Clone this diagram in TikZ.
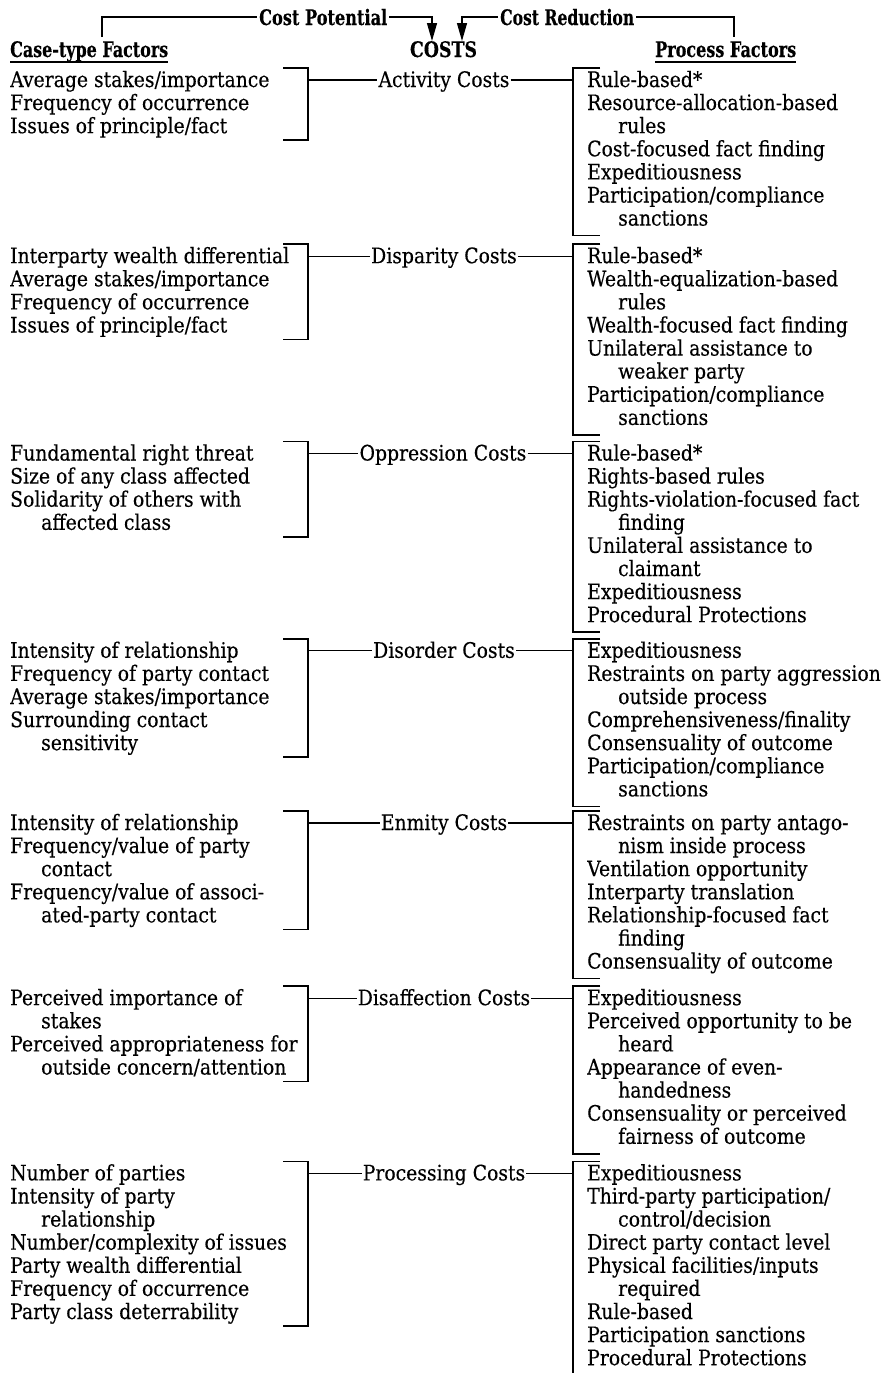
\documentclass[tikz,border=0pt]{standalone}
\usepackage{fontspec}
\setmainfont{DejaVu Serif}[FakeStretch=0.88,FakeBold=0.3]
\usepackage{graphicx}
\usetikzlibrary{arrows.meta}
\newlength\reflen
\newcommand\ind{\hspace*{31pt}}
\newcommand\tgroup[4]{\foreach \t [count=\i from 0] in {#4}{\node[txt] (#1-\i) at (#2,{#3+\i*23.1}) {\t};}}
\newcommand\lbracket[2]{\draw[brk] (283,{#1-19}) -- (308,{#1-19}) -- (308,{#1+(#2-1)*23.1+7}) -- (283,{#1+(#2-1)*23.1+7});}
\newcommand\rbracket[2]{\draw[brk] (600,{#1-19}) -- (573,{#1-19}) -- (573,{#1+(#2-1)*23.1+10}) -- (600,{#1+(#2-1)*23.1+10});}
\begin{document}
\settowidth\reflen{\fontsize{10pt}{12pt}\selectfont Interparty wealth differential}%
\pgfmathsetmacro\fs{10*279/\reflen}%
\begin{tikzpicture}[x=1pt,y=-1pt]
\tikzset{
  txt/.style={anchor=base west, inner sep=0pt, font=\fontsize{\fs pt}{\fs pt}\selectfont},
  cost/.style={anchor=base, inner xsep=1pt, inner ysep=0pt, text height=14pt, text depth=0pt, font=\fontsize{\fs pt}{\fs pt}\selectfont},
  hdr/.style={inner xsep=0pt, inner ysep=0pt, font=\fontsize{\fs pt}{\fs pt}\selectfont\bfseries},
  top/.style={anchor=base west, inner xsep=2pt, inner ysep=0pt, text height=16pt, text depth=0pt, font=\fontsize{\fs pt}{\fs pt}\selectfont\bfseries},
  brk/.style={line width=1.6pt},
  ln/.style={line width=1.3pt},
  tip/.style={-{Triangle[width=10pt,length=18pt]}}
}
\fill[white] (0,0) rectangle (882,1373);
\useasboundingbox (0,0) rectangle (882,1373);

% headers
\node[hdr, anchor=base west] (ctf) at (10,57) {\resizebox{158pt}{\height}{Case-type Factors}};
\node[hdr, anchor=base] (costs) at (443.5,57) {\resizebox{67pt}{\height}{COSTS}};
\node[hdr, anchor=base west] (pf) at (655,57) {\resizebox{141pt}{\height}{Process Factors}};
\draw[line width=2pt] ([yshift=-5pt]ctf.base west) -- ([yshift=-5pt]ctf.base east);
\draw[line width=2pt] ([yshift=-5pt]pf.base west) -- ([yshift=-5pt]pf.base east);
\node[top] (cp) at (257,25) {\resizebox{128pt}{\height}{Cost Potential}};
\node[top] (cr) at (498,25) {\resizebox{134pt}{\height}{Cost Reduction}};
\coordinate (cpL) at (102,37);
\coordinate (cpT) at (432,41);
\coordinate (crT) at (462,41);
\coordinate (crR) at (734,37);
\draw[ln] (cpL) |- (cp);
\draw[ln,tip] (cp) -| (cpT);
\draw[ln,tip] (cr) -| (crT);
\draw[ln] (cr) -| (crR);

% ---------- Activity
\tgroup{actl}{10}{87}{Average stakes/importance,Frequency of occurrence,Issues of principle/fact}
\tgroup{actr}{587}{87}{Rule-based*,Resource-allocation-based,\ind rules,Cost-focused fact finding,Expeditiousness,Participation/compliance,\ind sanctions}
\node[cost] (actc) at (444,87) {Activity Costs};
\coordinate (actL) at (308,80); \coordinate (actR) at (573,80);
\draw[ln] (actL) -- (actc); \draw[ln] (actc) -- (actR);
\lbracket{87}{3}
\rbracket{87}{7}

% ---------- Disparity
\tgroup{disl}{10}{263.2}{Interparty wealth differential,Average stakes/importance,Frequency of occurrence,Issues of principle/fact}
\tgroup{disr}{587}{263.2}{Rule-based*,Wealth-equalization-based,\ind rules,Wealth-focused fact finding,Unilateral assistance to,\ind weaker party,Participation/compliance,\ind sanctions}
\node[cost] (disc) at (444,263.2) {Disparity Costs};
\coordinate (disL) at (308,256.2); \coordinate (disR) at (573,256.2);
\draw[ln] (disL) -- (disc); \draw[ln] (disc) -- (disR);
\lbracket{263.2}{4}
\rbracket{263.2}{8}

% ---------- Oppression
\tgroup{oppl}{10}{460.5}{Fundamental right threat,Size of any class affected,Solidarity of others with,\ind affected class}
\tgroup{oppr}{587}{460.5}{Rule-based*,Rights-based rules,Rights-violation-focused fact,\ind finding,Unilateral assistance to,\ind claimant,Expeditiousness,Procedural Protections}
\node[cost] (oppc) at (443,460.5) {Oppression Costs};
\coordinate (oppL) at (308,453.5); \coordinate (oppR) at (573,453.5);
\draw[ln] (oppL) -- (oppc); \draw[ln] (oppc) -- (oppR);
\lbracket{460.5}{4}
\rbracket{460.5}{8}

% ---------- Disorder
\tgroup{dsol}{10}{657.8}{Intensity of relationship,Frequency of party contact,Average stakes/importance,Surrounding contact,\ind sensitivity}
\tgroup{dsor}{587}{657.8}{Expeditiousness,Restraints on party aggression,\ind outside process,Comprehensiveness/finality,Consensuality of outcome,Participation/compliance,\ind sanctions}
\node[cost] (dsoc) at (444,657.8) {Disorder Costs};
\coordinate (dsoL) at (308,650.8); \coordinate (dsoR) at (573,650.8);
\draw[ln] (dsoL) -- (dsoc); \draw[ln] (dsoc) -- (dsoR);
\lbracket{657.8}{5}
\rbracket{657.8}{7}

% ---------- Enmity
\tgroup{enml}{10}{830}{Intensity of relationship,Frequency/value of party,\ind contact,Frequency/value of associ-,\ind ated-party contact}
\tgroup{enmr}{587}{830}{Restraints on party antago-,\ind nism inside process,Ventilation opportunity,Interparty translation,Relationship-focused fact,\ind finding,Consensuality of outcome}
\node[cost] (enmc) at (444,830) {Enmity Costs};
\coordinate (enmL) at (308,823); \coordinate (enmR) at (573,823);
\draw[ln] (enmL) -- (enmc); \draw[ln] (enmc) -- (enmR);
\lbracket{830}{5}
\rbracket{830}{7}

% ---------- Disaffection
\tgroup{dafl}{10}{1005.2}{Perceived importance of,\ind stakes,Perceived appropriateness for,\ind outside concern/attention}
\tgroup{dafr}{587}{1005.2}{Expeditiousness,Perceived opportunity to be,\ind heard,Appearance of even-,\ind handedness,Consensuality or perceived,\ind fairness of outcome}
\node[cost] (dafc) at (444,1005.2) {Disaffection Costs};
\coordinate (dafL) at (308,998.2); \coordinate (dafR) at (573,998.2);
\draw[ln] (dafL) -- (dafc); \draw[ln] (dafc) -- (dafR);
\lbracket{1005.2}{4}
\rbracket{1005.2}{7}

% ---------- Processing
\tgroup{prol}{10}{1180.4}{Number of parties,Intensity of party,\ind relationship,Number/complexity of issues,Party wealth differential,Frequency of occurrence,Party class deterrability}
\tgroup{pror}{587}{1180.4}{Expeditiousness,Third-party participation/,\ind control/decision,Direct party contact level,Physical facilities/inputs,\ind required,Rule-based,Participation sanctions,Procedural Protections}
\node[cost] (proc) at (444,1180.4) {Processing Costs};
\coordinate (proL) at (308,1173.4); \coordinate (proR) at (573,1173.4);
\draw[ln] (proL) -- (proc); \draw[ln] (proc) -- (proR);
\lbracket{1180.4}{7}
\draw[brk] (600,1161.4) -- (573,1161.4) -- (573,1373);
\end{tikzpicture}
\end{document}
